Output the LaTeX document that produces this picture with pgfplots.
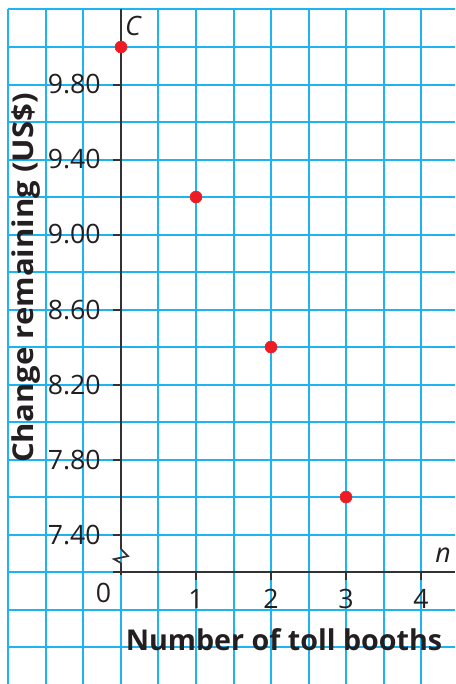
\documentclass[border=0pt]{standalone}
\usepackage{fontspec}
\setmainfont{Open Sans}
\usepackage{pgfplots}
\pgfplotsset{compat=1.18}
\definecolor{gridblue}{RGB}{30,180,240}
\definecolor{dotred}{RGB}{237,28,36}
\definecolor{axisgray}{RGB}{50,50,50}
\definecolor{textblack}{RGB}{35,31,32}
\begin{document}
\begin{tikzpicture}
\begin{axis}[
    scale only axis,
    width=334.875pt, height=506.25pt,
    xmin=-1.5, xmax=4.453, ymin=6.6, ymax=10.2,
    axis line style={draw=none},
    tick style={draw=none},
    xtick={-1.5,-1,-0.5,0,0.5,1,1.5,2,2.5,3,3.5,4},
    ytick={6.6,6.8,7,7.2,7.4,7.6,7.8,8,8.2,8.4,8.6,8.8,9,9.2,9.4,9.6,9.8,10,10.2},
    xticklabels={}, yticklabels={},
    grid=major,
    major grid style={gridblue, line width=1.5pt},
    clip mode=individual,
    every axis plot/.append style={clip=true},
    ]
\coordinate (bbtl) at (axis cs:-1.613,10.2507);
\coordinate (bbbr) at (axis cs:4.453,6.603);
% axes
\draw[axisgray, line width=1.8pt] (axis cs:0,10.2) -- (axis cs:0,7.323);
\draw[axisgray, line width=1.3pt] (axis cs:0,7.323) -- (axis cs:0.093,7.285)
    -- (axis cs:-0.093,7.269) -- (axis cs:0,7.248);
\draw[axisgray, line width=1.8pt] (axis cs:0,7.248) -- (axis cs:0,7.185);
\draw[axisgray, line width=1.8pt] (axis cs:-0.107,7.2) -- (axis cs:4.453,7.2);
% y ticks
\draw[axisgray, line width=1.5pt] (axis cs:-0.107,9.8) -- (axis cs:0,9.8);
\draw[axisgray, line width=1.5pt] (axis cs:-0.107,9.4) -- (axis cs:0,9.4);
\draw[axisgray, line width=1.5pt] (axis cs:-0.107,9.0) -- (axis cs:0,9.0);
\draw[axisgray, line width=1.5pt] (axis cs:-0.107,8.6) -- (axis cs:0,8.6);
\draw[axisgray, line width=1.5pt] (axis cs:-0.107,8.2) -- (axis cs:0,8.2);
\draw[axisgray, line width=1.5pt] (axis cs:-0.107,7.8) -- (axis cs:0,7.8);
\draw[axisgray, line width=1.5pt] (axis cs:-0.107,7.4) -- (axis cs:0,7.4);
% x ticks
\draw[axisgray, line width=1.5pt] (axis cs:1,7.2) -- (axis cs:1,7.157);
\draw[axisgray, line width=1.5pt] (axis cs:2,7.2) -- (axis cs:2,7.157);
\draw[axisgray, line width=1.5pt] (axis cs:3,7.2) -- (axis cs:3,7.157);
\draw[axisgray, line width=1.5pt] (axis cs:4,7.2) -- (axis cs:4,7.157);
% tick labels
\begin{scope}[every node/.style={text=textblack, inner sep=0pt, font=\fontsize{20}{24}\selectfont}]
\node[anchor=east] at (axis cs:-0.267,9.8) {9.80};
\node[anchor=east] at (axis cs:-0.267,9.4) {9.40};
\node[anchor=east] at (axis cs:-0.267,9.0) {9.00};
\node[anchor=east] at (axis cs:-0.267,8.6) {8.60};
\node[anchor=east] at (axis cs:-0.267,8.2) {8.20};
\node[anchor=east] at (axis cs:-0.267,7.8) {7.80};
\node[anchor=east] at (axis cs:-0.267,7.4) {7.40};
\node[anchor=base] at (axis cs:-0.233,7.04) {0};
\node[anchor=base] at (axis cs:1,7.008) {1};
\node[anchor=base] at (axis cs:2,7.008) {2};
\node[anchor=base] at (axis cs:3,7.008) {3};
\node[anchor=base] at (axis cs:4,7.008) {4};
\node[anchor=base] at (axis cs:0.16,10.063) {\itshape C};
\node[anchor=base] at (axis cs:4.293,7.253) {\itshape n};
\end{scope}
% axis titles
\node[text=textblack, inner sep=0pt, font=\bfseries\fontsize{21.5}{26}\selectfont, anchor=base]
    at (axis cs:2.173,6.779) {Number of toll booths};
\node[text=textblack, inner sep=0pt, font=\bfseries\fontsize{21.5}{26}\selectfont, anchor=base, rotate=90]
    at (axis cs:-1.173,8.768) {\scalebox{1.085}[1]{Change remaining (US\$)}};
% data
\addplot[only marks, mark=*, mark size=4.5pt, dotred, mark options={draw=dotred, fill=dotred}]
    coordinates {(0,10.00) (1,9.20) (2,8.40) (3,7.60) (4.49,9.68)};
\end{axis}
\pgfresetboundingbox
\useasboundingbox (bbtl) rectangle (bbbr);
\end{tikzpicture}
\end{document}
